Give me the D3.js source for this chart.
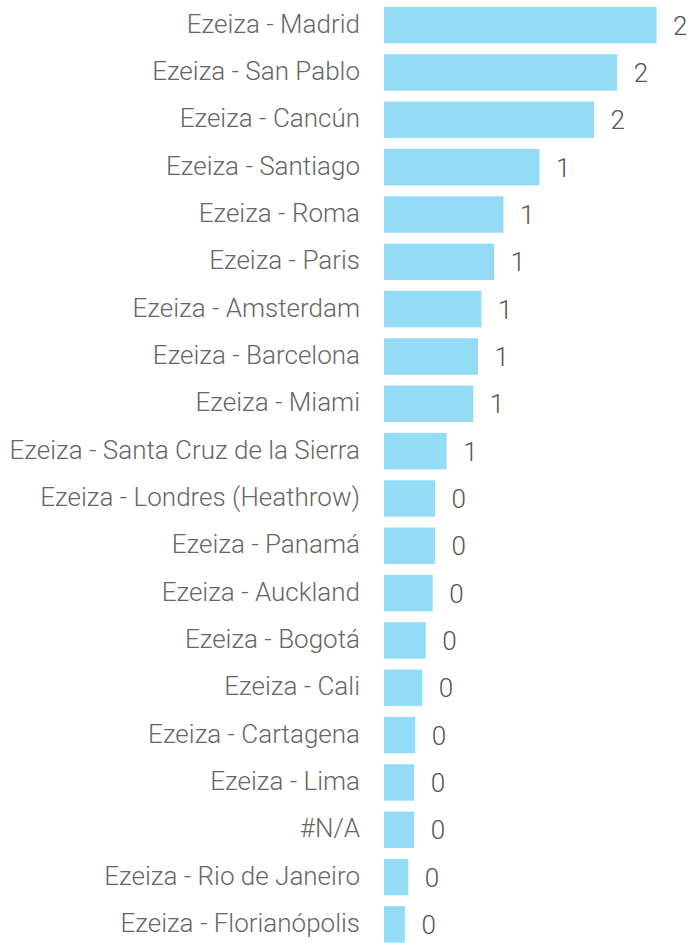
<!DOCTYPE html>
<html>
<head>
<meta charset="utf-8">
<script src="https://cdn.jsdelivr.net/npm/d3@7"></script>
<style>
  html, body { margin: 0; padding: 0; background: #fff; }
  svg { display: block; }
</style>
</head>
<body>
<svg id="chart" width="695" height="943"></svg>
<script>
const categories = [
  "Ezeiza - Madrid", "Ezeiza - San Pablo", "Ezeiza - Cancún", "Ezeiza - Santiago",
  "Ezeiza - Roma", "Ezeiza - Paris", "Ezeiza - Amsterdam", "Ezeiza - Barcelona",
  "Ezeiza - Miami", "Ezeiza - Santa Cruz de la Sierra", "Ezeiza - Londres (Heathrow)",
  "Ezeiza - Panamá", "Ezeiza - Auckland", "Ezeiza - Bogotá", "Ezeiza - Cali",
  "Ezeiza - Cartagena", "Ezeiza - Lima", "#N/A", "Ezeiza - Rio de Janeiro",
  "Ezeiza - Florianópolis"
];
const values = [
  2.35, 2.01, 1.81, 1.34, 1.03, 0.95, 0.84, 0.81, 0.77, 0.54,
  0.44, 0.44, 0.42, 0.36, 0.33, 0.27, 0.26, 0.26, 0.21, 0.18
];

const svg = d3.select("#chart");
const x = d3.scaleLinear().domain([0, 3]).range([384, 384 + 348]);
const y = d3.scaleBand().domain(categories).range([1.5, 1.5 + 946.6])
  .paddingInner(0.23).paddingOuter(0.115);

const rows = svg.selectAll("g.row").data(categories.map((c, i) => ({c, v: values[i]})))
  .join("g").attr("class", "row");

rows.append("rect")
  .attr("x", x(0))
  .attr("y", d => y(d.c))
  .attr("width", d => x(d.v) - x(0))
  .attr("height", y.bandwidth())
  .attr("fill", "#94dcf5");

rows.append("text")
  .attr("x", 360)
  .attr("y", d => y(d.c) + y.bandwidth() / 2 + 7.5)
  .attr("text-anchor", "end")
  .attr("font-family", "Roboto")
  .attr("font-weight", 300)
  .attr("font-size", 26)
  .attr("fill", "#666")
  .text(d => d.c);

rows.append("text")
  .attr("x", d => x(d.v) + 16.5)
  .attr("y", d => y(d.c) + y.bandwidth() / 2 + 9.5)
  .attr("text-anchor", "start")
  .attr("font-family", "Roboto")
  .attr("font-weight", 300)
  .attr("font-size", 26)
  .attr("fill", "#555")
  .text(d => d3.format(".0f")(d.v));
</script>
</body>
</html>
